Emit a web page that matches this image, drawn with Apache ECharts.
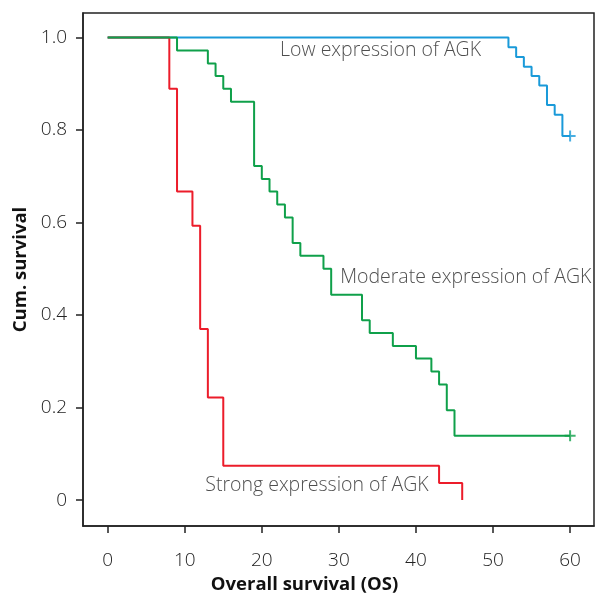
<!DOCTYPE html>
<html>
<head>
<meta charset="utf-8">
<script src="https://cdn.jsdelivr.net/npm/echarts@6/dist/echarts.min.js"></script>
<style>
html,body{margin:0;padding:0;background:#fff;}
#chart{width:595px;height:595px;}
</style>
</head>
<body>
<div id="chart"></div>
<script>
// Kaplan-Meier step data: [time, cumulative survival]
var lowTimes     = [0, 52, 53, 54, 55, 56, 57, 58, 59, 60];
var lowSurv      = [1, 0.979, 0.958, 0.937, 0.917, 0.896, 0.854, 0.833, 0.787, 0.787];
var modTimes     = [0, 9, 13, 14, 15, 16, 19, 20, 21, 22, 23, 24, 25, 28, 29, 33, 34, 37, 40, 42, 43, 44, 45, 60];
var modSurv      = [1, 0.972, 0.944, 0.917, 0.889, 0.861, 0.722, 0.694, 0.667, 0.639, 0.611, 0.556, 0.528, 0.5, 0.444, 0.389, 0.361, 0.333, 0.306, 0.278, 0.25, 0.194, 0.139, 0.139];
var strongTimes  = [0, 8, 9, 11, 12, 13, 15, 43, 46];
var strongSurv   = [1, 0.889, 0.667, 0.593, 0.370, 0.222, 0.074, 0.037, 0];
var censorLow    = [[60, 0.787]];
var censorMod    = [[60, 0.139]];
var xTicks = [0, 10, 20, 30, 40, 50, 60];
var yTicks = [0, 0.2, 0.4, 0.6, 0.8, 1.0];
var groupNames = ['Low expression of AGK', 'Moderate expression of AGK', 'Strong expression of AGK'];
var labelPos = [[22.3, 0.973], [30.1, 0.482], [12.6, 0.032]];

function zip(a, b){ return a.map(function(v,i){ return [v, b[i]]; }); }

var colors = {low:'#1a9ad9', mod:'#0fa04a', strong:'#ec1c2a'};
var FONT = '"Open Sans", Lato, sans-serif';
var cross = 'path://M4.5,0h2v11h-2z M0,4.5h11v2h-11z';

var chart = echarts.init(document.getElementById('chart'), null, {renderer:'canvas'});
chart.setOption({
  animation: false,
  backgroundColor: '#fff',
  grid: {left: 83, top: 13, right: 1, bottom: 69, show: true, borderColor: '#222', borderWidth: 1.5,
         backgroundColor: 'transparent', outerBoundsMode: 'none', containLabel: false},
  xAxis: {
    type: 'value', min: -3.2, max: 63.1,
    splitLine: {show:false},
    axisLine: {show:true, onZero:false, lineStyle:{color:'#222', width:1.5}},
    axisTick: {show:true, customValues: xTicks, length: 7, lineStyle:{color:'#222', width:1.5}},
    axisLabel: {show:true, customValues: xTicks, margin: 25, color:'#222', fontFamily: FONT, fontWeight: 300, fontSize: 19},
    name: 'Overall survival (OS)', nameLocation: 'middle', nameGap: 47,
    nameTextStyle: {color:'#111', fontFamily: FONT, fontWeight: 'bold', fontSize: 18.5, padding: [0, 68, 0, 0]}
  },
  yAxis: {
    type: 'value', min: -0.056, max: 1.053,
    splitLine: {show:false},
    axisLine: {show:true, onZero:false, lineStyle:{color:'#222', width:1.5}},
    axisTick: {show:true, customValues: yTicks, length: 7, lineStyle:{color:'#222', width:1.5}},
    axisLabel: {show:true, customValues: yTicks, margin: 16, color:'#222', fontFamily: FONT, fontWeight: 300, fontSize: 19,
      formatter: function(v){ return v === 0 ? '0' : v.toFixed(1); }},
    name: 'Cum. survival', nameLocation: 'middle', nameGap: 52,
    nameTextStyle: {color:'#111', fontFamily: FONT, fontWeight: 'bold', fontSize: 18.5}
  },
  series: [
    {type:'line', name: groupNames[0], step:'end', data: zip(lowTimes, lowSurv), showSymbol:false, symbol:'none',
     lineStyle:{color:colors.low, width:2}, z:2},
    {type:'line', name: groupNames[2], step:'end', data: zip(strongTimes, strongSurv), showSymbol:false, symbol:'none',
     lineStyle:{color:colors.strong, width:2}, z:3},
    {type:'line', name: groupNames[1], step:'end', data: zip(modTimes, modSurv), showSymbol:false, symbol:'none',
     lineStyle:{color:colors.mod, width:2}, z:4},
    {type:'scatter', data: censorLow, symbol: cross, symbolSize: 11, itemStyle:{color:colors.low}, z:5},
    {type:'scatter', data: censorMod, symbol: cross, symbolSize: 11, itemStyle:{color:colors.mod}, z:5},
    {type:'scatter', silent: true, z:6, symbolSize: 1, itemStyle:{color:'rgba(0,0,0,0)'},
     data: labelPos.map(function(p, i){ return {value: p, name: groupNames[i]}; }),
     label: {show:true, position:'right', distance:0, formatter: function(p){ return p.name; },
             color:'#222', fontFamily: FONT, fontWeight: 300, fontSize: 19.5}}
  ]
});
</script>
</body>
</html>
